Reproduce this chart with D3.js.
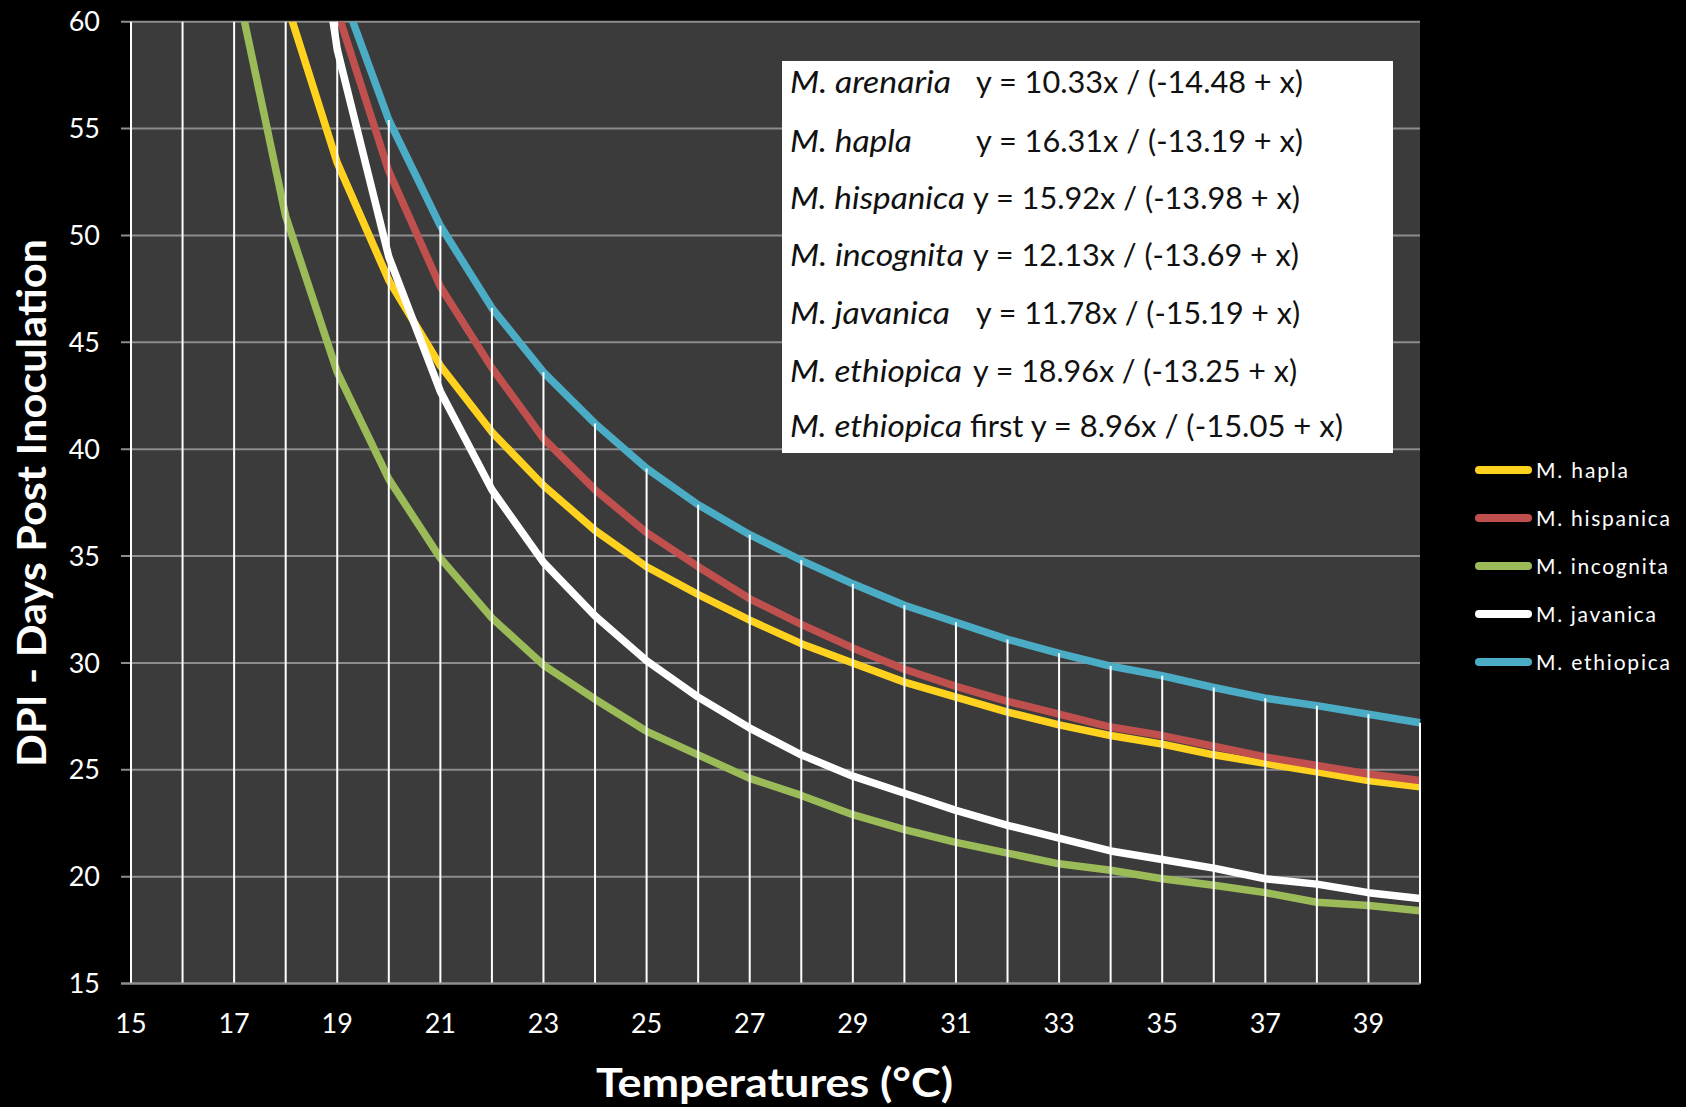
<!DOCTYPE html>
<html><head><meta charset="utf-8">
<script src="https://cdn.jsdelivr.net/npm/d3@7"></script>
<style>
html,body{margin:0;padding:0;background:#000;}
svg{display:block;}
text{font-family:Lato,"Open Sans",sans-serif;}
</style>
</head><body>
<svg id="chart" width="1686" height="1107"></svg>
<script>
// ---------- DATA ----------
const temperatures = [15,16,17,18,19,20,21,22,23,24,25,26,27,28,29,30,31,32,33,34,35,36,37,38,39,40];
const hapla     = [130,92,72,61.0,53.4,47.9,43.9,40.8,38.3,36.2,34.5,33.2,32.0,30.9,30.0,29.1,28.4,27.7,27.1,26.6,26.2,25.7,25.3,24.9,24.5,24.2];
const hispanica = [200,125,90,71,60.5,53.0,47.6,43.8,40.5,38.1,36.1,34.5,33.0,31.8,30.7,29.7,28.9,28.2,27.6,27.0,26.6,26.1,25.6,25.2,24.8,24.5];
const incognita = [140,84,62.3,50.9,43.6,38.6,34.9,32.1,29.9,28.3,26.8,25.7,24.6,23.8,22.9,22.2,21.6,21.1,20.6,20.3,19.9,19.6,19.25,18.8,18.65,18.4];
const javanica  = [null,230,110,75,58.7,49.0,42.7,38.1,34.7,32.2,30.1,28.4,26.95,25.7,24.7,23.9,23.1,22.4,21.8,21.2,20.8,20.4,19.9,19.65,19.25,18.98];
const ethiopica = [160,110,86,72,62.0,55.4,50.45,46.6,43.6,41.2,39.1,37.4,36.0,34.8,33.7,32.7,31.9,31.1,30.45,29.85,29.4,28.85,28.35,28.0,27.6,27.2];

const seriesNames = ["M. hapla","M. hispanica","M. incognita","M. javanica","M. ethiopica"];
const seriesValues = [hapla, hispanica, incognita, javanica, ethiopica];
const seriesColors = ["#FFD21F","#C0504D","#9BBB59","#FFFFFF","#4BACC6"];

const yTicks = [15,20,25,30,35,40,45,50,55,60];
const xTicks = [15,17,19,21,23,25,27,29,31,33,35,37,39];

const eqNames = ["M. arenaria","M. hapla","M. hispanica","M. incognita","M. javanica","M. ethiopica","M. ethiopica"];
const eqFormulas = ["y = 10.33x / (-14.48 + x)","y = 16.31x / (-13.19 + x)","y = 15.92x / (-13.98 + x)","y = 12.13x / (-13.69 + x)","y = 11.78x / (-15.19 + x)","y = 18.96x / (-13.25 + x)","first y = 8.96x / (-15.05 + x)"];

const xTitle = "Temperatures (°C)";
const yTitle = "DPI - Days Post Inoculation";

// ---------- LAYOUT ----------
const L = {left:131, right:1420, top:21.7, bottom:983.5};
const svg = d3.select("#chart");
const x = d3.scaleLinear().domain([15,40]).range([L.left, L.right]);
const y = d3.scaleLinear().domain([15,60]).range([L.bottom, L.top]);

svg.append("rect").attr("width",1686).attr("height",1107).attr("fill","#000");
svg.append("rect").attr("x",L.left).attr("y",L.top).attr("width",L.right-L.left).attr("height",L.bottom-L.top).attr("fill","#3b3b3b");

// gridlines
svg.append("g").selectAll("line").data(yTicks).join("line")
  .attr("x1",L.left-10).attr("x2",L.right)
  .attr("y1",d=>y(d)).attr("y2",d=>y(d))
  .attr("stroke","#8d8d8d").attr("stroke-width",2);

// clip
svg.append("clipPath").attr("id","plotclip").append("rect")
  .attr("x",L.left).attr("y",L.top).attr("width",L.right-L.left+1).attr("height",L.bottom-L.top);

const line = d3.line()
  .defined(d=>d[1]!=null)
  .x(d=>x(d[0])).y(d=>y(d[1]));

const gLines = svg.append("g").attr("clip-path","url(#plotclip)");
seriesValues.forEach((vals,i)=>{
  gLines.append("path")
    .datum(temperatures.map((t,j)=>[t,vals[j]]))
    .attr("d",line).attr("fill","none")
    .attr("stroke",seriesColors[i]).attr("stroke-width",7.5)
    .attr("stroke-linejoin","round");
});

// drop lines (from highest point of each category)
const maxVals = temperatures.map((t,j)=>d3.max(seriesValues,s=>s[j]));
svg.append("g").selectAll("line").data(temperatures).join("line")
  .attr("x1",d=>x(d)).attr("x2",d=>x(d))
  .attr("y1",L.bottom)
  .attr("y2",(d,j)=>y(Math.min(60,maxVals[j])))
  .attr("stroke","#fff").attr("stroke-width",2);

// bottom axis line
svg.append("line").attr("x1",L.left-10).attr("x2",L.right).attr("y1",L.bottom).attr("y2",L.bottom)
  .attr("stroke","#8d8d8d").attr("stroke-width",2);

// y tick labels
svg.append("g").selectAll("text").data(yTicks).join("text")
  .attr("x",100).attr("y",d=>y(d)).attr("dy","0.36em")
  .attr("text-anchor","end").attr("fill","#fff").attr("font-size",27)
  .text(d=>d);

// x tick labels
svg.append("g").selectAll("text").data(xTicks).join("text")
  .attr("x",d=>x(d)).attr("y",1033)
  .attr("text-anchor","middle").attr("fill","#fff").attr("font-size",27)
  .text(d=>d);

// axis titles
svg.append("text").attr("x",774.5).attr("y",1097).attr("text-anchor","middle")
  .attr("fill","#fff").attr("font-size",40).attr("font-weight","bold")
  .attr("textLength",357).attr("lengthAdjust","spacingAndGlyphs").text(xTitle);
svg.append("text").attr("transform","translate(46,503) rotate(-90)").attr("text-anchor","middle")
  .attr("fill","#fff").attr("font-size",40).attr("font-weight","bold")
  .attr("textLength",528).attr("lengthAdjust","spacingAndGlyphs").text(yTitle);

// legend
const legW = [92,134,132,120,134];
const leg = svg.append("g");
seriesNames.forEach((n,i)=>{
  const cy = 470 + i*48;
  leg.append("line").attr("x1",1479).attr("x2",1528).attr("y1",cy).attr("y2",cy)
    .attr("stroke",seriesColors[i]).attr("stroke-width",8).attr("stroke-linecap","round");
  leg.append("text").attr("x",1536).attr("y",cy).attr("dy","0.36em")
    .attr("fill","#fff").attr("font-size",21)
    .attr("textLength",legW[i]).attr("lengthAdjust","spacing").text(n);
});

// equation box
svg.append("rect").attr("x",782).attr("y",61).attr("width",611).attr("height",392).attr("fill","#fff");
const eqBase = [93.3,151.7,209.3,266,324,381.7,436.7];
const nameW = [161,122,175,174,160,172,172];
const eqX = [976,976,973,973,976,973,970];
const eqW = [327,327,327,326,324,324,373];
eqNames.forEach((n,i)=>{
  svg.append("text").attr("x",790).attr("y",eqBase[i])
    .attr("font-style","italic").attr("font-size",30).attr("fill","#111")
    .attr("textLength",nameW[i]).attr("lengthAdjust","spacingAndGlyphs").text(n);
  svg.append("text").attr("x",eqX[i]).attr("y",eqBase[i])
    .attr("font-size",30).attr("fill","#111")
    .attr("textLength",eqW[i]).attr("lengthAdjust","spacingAndGlyphs").text(eqFormulas[i]);
});
</script>
</body></html>
